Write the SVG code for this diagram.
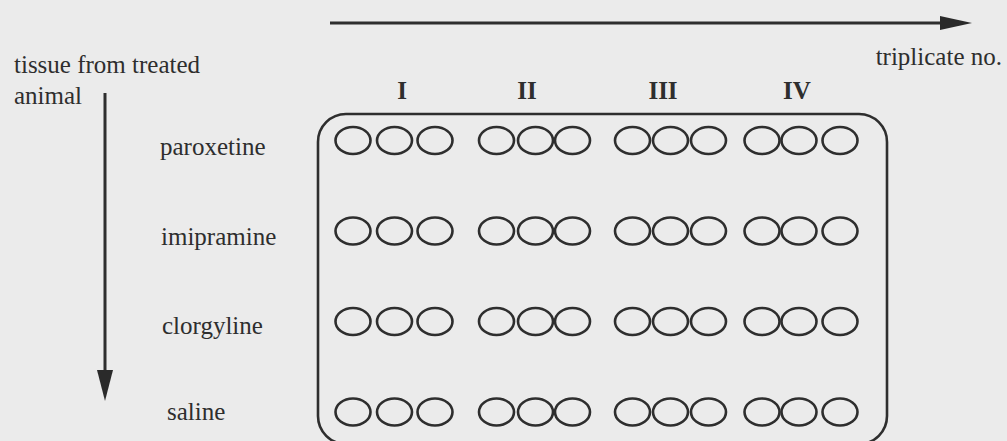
<svg xmlns="http://www.w3.org/2000/svg" width="1007" height="441" viewBox="0 0 1007 441">
<style>
.t{font-family:"Liberation Serif","Times New Roman",serif;font-size:25px;fill:#2e2e2e}
.b{font-weight:bold;text-anchor:middle}
.w{fill:none;stroke:#2e2e2e;stroke-width:2.6}
.ln{stroke:#2e2e2e;stroke-width:3;fill:none}
.ah{fill:#2a2a2a}
</style>
<defs>
<g id="trip3">
<ellipse class="w" cx="0" cy="0" rx="17.5" ry="13.5"/>
</g>
</defs>
<rect width="1007" height="441" fill="#ebebeb"/>
<g id="connectors">
<line class="ln" x1="330" y1="23" x2="944" y2="23"/>
<polygon class="ah" points="940,16 972,23 940,30"/>
<line class="ln" x1="105" y1="93" x2="105" y2="374"/>
<polygon class="ah" points="97,370 113,370 105,401"/>
</g>
<g id="axis-labels">
<text class="t" x="1002" y="65" text-anchor="end">triplicate no.</text>
<text class="t" x="14" y="73">tissue from treated</text>
<text class="t" x="14" y="104">animal</text>
</g>
<g id="column-labels">
<text class="t b" x="402" y="99">I</text>
<text class="t b" x="527" y="99">II</text>
<text class="t b" x="663" y="99">III</text>
<text class="t b" x="797" y="99">IV</text>
</g>
<g id="row-labels">
<text class="t" x="160" y="155">paroxetine</text>
<text class="t" x="161" y="245">imipramine</text>
<text class="t" x="162" y="334">clorgyline</text>
<text class="t" x="167" y="420">saline</text>
</g>
<g id="plate">
<rect class="w" x="318" y="114" width="569" height="330" rx="28" ry="28"/>
</g>
<g id="wells">
<g id="row1" transform="translate(0,140.5)">
<use href="#trip3" x="353"/><use href="#trip3" x="394.5"/><use href="#trip3" x="435"/>
<use href="#trip3" x="496.5"/><use href="#trip3" x="535.5"/><use href="#trip3" x="572.5"/>
<use href="#trip3" x="632.5"/><use href="#trip3" x="670.5"/><use href="#trip3" x="708.5"/>
<use href="#trip3" x="762"/><use href="#trip3" x="799"/><use href="#trip3" x="840"/>
</g>
<g id="row2" transform="translate(0,231)">
<use href="#trip3" x="353"/><use href="#trip3" x="394.5"/><use href="#trip3" x="435"/>
<use href="#trip3" x="496.5"/><use href="#trip3" x="535.5"/><use href="#trip3" x="572.5"/>
<use href="#trip3" x="632.5"/><use href="#trip3" x="670.5"/><use href="#trip3" x="708.5"/>
<use href="#trip3" x="762"/><use href="#trip3" x="799"/><use href="#trip3" x="840"/>
</g>
<g id="row3" transform="translate(0,321.5)">
<use href="#trip3" x="353"/><use href="#trip3" x="394.5"/><use href="#trip3" x="435"/>
<use href="#trip3" x="496.5"/><use href="#trip3" x="535.5"/><use href="#trip3" x="572.5"/>
<use href="#trip3" x="632.5"/><use href="#trip3" x="670.5"/><use href="#trip3" x="708.5"/>
<use href="#trip3" x="762"/><use href="#trip3" x="799"/><use href="#trip3" x="840"/>
</g>
<g id="row4" transform="translate(0,412)">
<use href="#trip3" x="353"/><use href="#trip3" x="394.5"/><use href="#trip3" x="435"/>
<use href="#trip3" x="496.5"/><use href="#trip3" x="535.5"/><use href="#trip3" x="572.5"/>
<use href="#trip3" x="632.5"/><use href="#trip3" x="670.5"/><use href="#trip3" x="708.5"/>
<use href="#trip3" x="762"/><use href="#trip3" x="799"/><use href="#trip3" x="840"/>
</g>
</g>
</svg>
